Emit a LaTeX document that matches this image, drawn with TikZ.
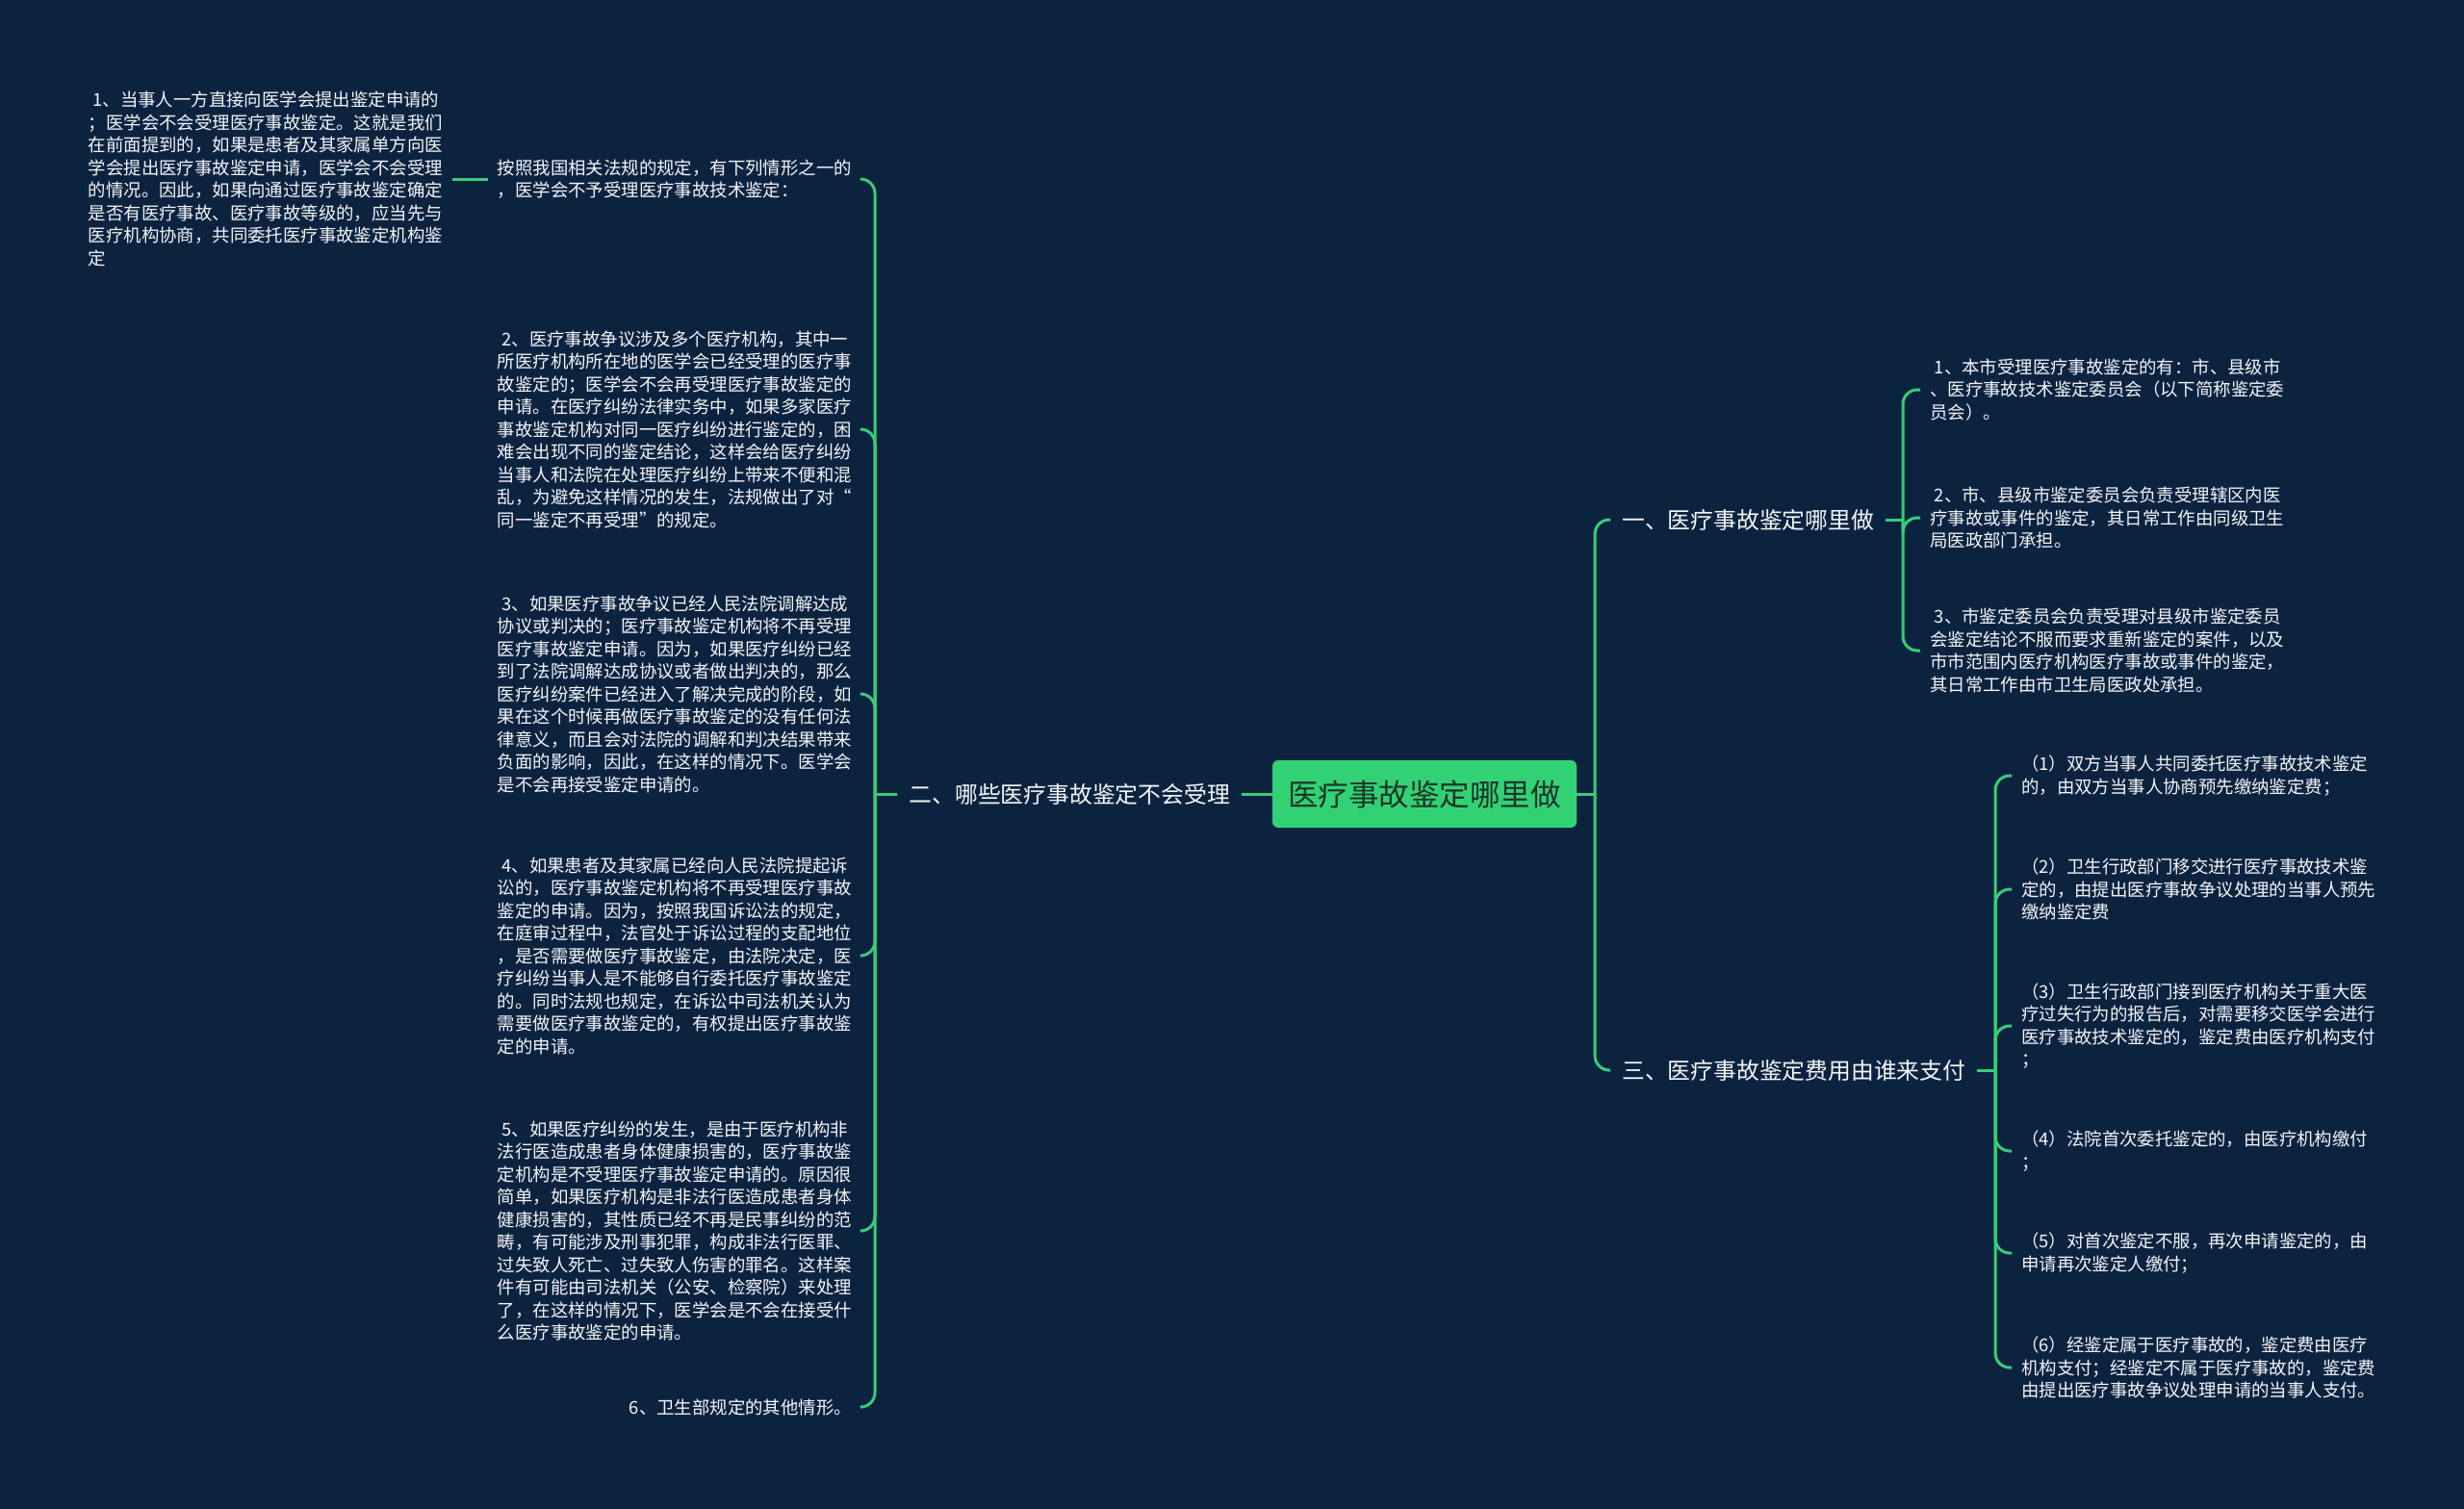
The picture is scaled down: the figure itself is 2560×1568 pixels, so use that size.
\documentclass[tikz,border=0pt]{standalone}
\usepackage{fontspec}
\newfontfamily\cjk{Noto Sans CJK SC}
\definecolor{bg}{RGB}{12,35,64}
\definecolor{lnk}{RGB}{58,204,120}
\definecolor{rootc}{RGB}{50,210,116}
\definecolor{roottxt}{RGB}{28,52,40}
\definecolor{txt}{RGB}{244,246,248}
\begin{document}
\begin{tikzpicture}[x=1pt,y=-1pt,
  link/.style={draw=lnk, line width=3pt, rounded corners=15pt},
  leaf/.style={text=txt, font=\cjk\fontsize{18.4}{23.5}\selectfont, align=left, inner xsep=10pt, inner ysep=0pt},
  topic/.style={text=txt, font=\cjk\fontsize{23.8}{28}\selectfont, inner xsep=12pt, inner ysep=2pt},
  rootbox/.style={fill=rootc, rounded corners=6pt, minimum width=316pt, minimum height=70pt, text=roottxt, font=\cjk\fontsize{31.5}{36}\selectfont}]

\fill[bg] (0,0) rectangle (2560,1568);
\useasboundingbox (0,0) rectangle (2560,1568);

% root and topics
\node[rootbox] (c) at (1480,825) {医疗事故鉴定哪里做};
\node[topic, anchor=east] (t2) at (1290,825) {二、哪些医疗事故鉴定不会受理};
\node[topic, anchor=west] (t1) at (1673,540) {一、医疗事故鉴定哪里做};
\node[topic, anchor=west] (t3) at (1673,1112) {三、医疗事故鉴定费用由谁来支付};

% left children
\node[leaf, anchor=east] (a1) at (895,186) {按照我国相关法规的规定，有下列情形之一的\\，医学会不予受理医疗事故技术鉴定：};
\node[leaf, anchor=east] (s1) at (470,186) {\hspace*{.25em}1、当事人一方直接向医学会提出鉴定申请的\\；医学会不会受理医疗事故鉴定。这就是我们\\在前面提到的，如果是患者及其家属单方向医\\学会提出医疗事故鉴定申请，医学会不会受理\\的情况。因此，如果向通过医疗事故鉴定确定\\是否有医疗事故、医疗事故等级的，应当先与\\医疗机构协商，共同委托医疗事故鉴定机构鉴\\定};
\node[leaf, anchor=east] (a2) at (895,446) {\hspace*{.25em}2、医疗事故争议涉及多个医疗机构，其中一\\所医疗机构所在地的医学会已经受理的医疗事\\故鉴定的；医学会不会再受理医疗事故鉴定的\\申请。在医疗纠纷法律实务中，如果多家医疗\\事故鉴定机构对同一医疗纠纷进行鉴定的，困\\难会出现不同的鉴定结论，这样会给医疗纠纷\\当事人和法院在处理医疗纠纷上带来不便和混\\乱，为避免这样情况的发生，法规做出了对“\\同一鉴定不再受理”的规定。};
\node[leaf, anchor=east] (a3) at (895,721) {\hspace*{.25em}3、如果医疗事故争议已经人民法院调解达成\\协议或判决的；医疗事故鉴定机构将不再受理\\医疗事故鉴定申请。因为，如果医疗纠纷已经\\到了法院调解达成协议或者做出判决的，那么\\医疗纠纷案件已经进入了解决完成的阶段，如\\果在这个时候再做医疗事故鉴定的没有任何法\\律意义，而且会对法院的调解和判决结果带来\\负面的影响，因此，在这样的情况下。医学会\\是不会再接受鉴定申请的。};
\node[leaf, anchor=east] (a4) at (895,993) {\hspace*{.25em}4、如果患者及其家属已经向人民法院提起诉\\讼的，医疗事故鉴定机构将不再受理医疗事故\\鉴定的申请。因为，按照我国诉讼法的规定，\\在庭审过程中，法官处于诉讼过程的支配地位\\，是否需要做医疗事故鉴定，由法院决定，医\\疗纠纷当事人是不能够自行委托医疗事故鉴定\\的。同时法规也规定，在诉讼中司法机关认为\\需要做医疗事故鉴定的，有权提出医疗事故鉴\\定的申请。};
\node[leaf, anchor=east] (a5) at (895,1279) {\hspace*{.25em}5、如果医疗纠纷的发生，是由于医疗机构非\\法行医造成患者身体健康损害的，医疗事故鉴\\定机构是不受理医疗事故鉴定申请的。原因很\\简单，如果医疗机构是非法行医造成患者身体\\健康损害的，其性质已经不再是民事纠纷的范\\畴，有可能涉及刑事犯罪，构成非法行医罪、\\过失致人死亡、过失致人伤害的罪名。这样案\\件有可能由司法机关（公安、检察院）来处理\\了，在这样的情况下，医学会是不会在接受什\\么医疗事故鉴定的申请。};
\node[leaf, anchor=east] (a6) at (895,1462) {\hspace*{.25em}6、卫生部规定的其他情形。};

% right children of t1
\node[leaf, anchor=west] (r1) at (1995,405) {\hspace*{.25em}1、本市受理医疗事故鉴定的有：市、县级市\\、医疗事故技术鉴定委员会（以下简称鉴定委\\员会）。};
\node[leaf, anchor=west] (r2) at (1995,538) {\hspace*{.25em}2、市、县级市鉴定委员会负责受理辖区内医\\疗事故或事件的鉴定，其日常工作由同级卫生\\局医政部门承担。};
\node[leaf, anchor=west] (r3) at (1995,676) {\hspace*{.25em}3、市鉴定委员会负责受理对县级市鉴定委员\\会鉴定结论不服而要求重新鉴定的案件，以及\\市市范围内医疗机构医疗事故或事件的鉴定，\\其日常工作由市卫生局医政处承担。};

% right children of t3
\node[leaf, anchor=west] (p1) at (2090,806) {（1）双方当事人共同委托医疗事故技术鉴定\\的，由双方当事人协商预先缴纳鉴定费；};
\node[leaf, anchor=west] (p2) at (2090,924) {（2）卫生行政部门移交进行医疗事故技术鉴\\定的，由提出医疗事故争议处理的当事人预先\\缴纳鉴定费};
\node[leaf, anchor=west] (p3) at (2090,1066) {（3）卫生行政部门接到医疗机构关于重大医\\疗过失行为的报告后，对需要移交医学会进行\\医疗事故技术鉴定的，鉴定费由医疗机构支付\\；};
\node[leaf, anchor=west] (p4) at (2090,1196) {（4）法院首次委托鉴定的，由医疗机构缴付\\；};
\node[leaf, anchor=west] (p5) at (2090,1302) {（5）对首次鉴定不服，再次申请鉴定的，由\\申请再次鉴定人缴付；};
\node[leaf, anchor=west] (p6) at (2090,1421) {（6）经鉴定属于医疗事故的，鉴定费由医疗\\机构支付；经鉴定不属于医疗事故的，鉴定费\\由提出医疗事故争议处理申请的当事人支付。};

% connectors
\coordinate (bl) at (909,825);
\coordinate (br) at (1657,825);
\coordinate (b1) at (1977,540);
\coordinate (b3) at (2073,1112);

\draw[link] (c.west) -- (t2.east);
\draw[link] (t2.west) -- (bl);
\foreach \k in {a1,a2,a3,a4,a5,a6} { \draw[link] (bl) |- (\k.east); }
\draw[link] (a1.west) -- (s1.east);

\draw[link] (c.east) -- (br);
\draw[link] (br) |- (t1.west);
\draw[link] (br) |- (t3.west);

\draw[link] (t1.east) -- (b1);
\foreach \k in {r1,r2,r3} { \draw[link] (b1) |- (\k.west); }

\draw[link] (t3.east) -- (b3);
\foreach \k in {p1,p2,p3,p4,p5,p6} { \draw[link] (b3) |- (\k.west); }
\end{tikzpicture}
\end{document}
